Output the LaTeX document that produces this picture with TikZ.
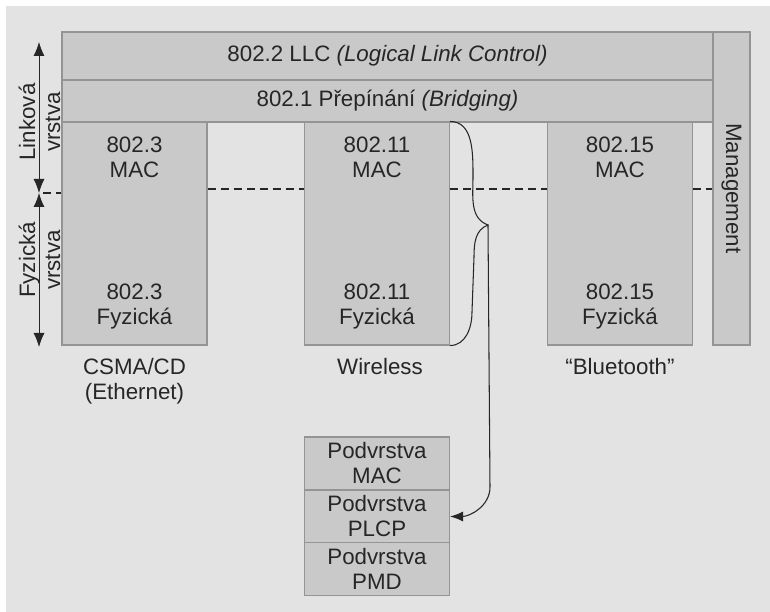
\documentclass[tikz,border=0pt]{standalone}
\usepackage{fontspec}
\setmainfont{Liberation Sans}
\usetikzlibrary{arrows.meta}

\definecolor{paper}{gray}{0.89}
\definecolor{boxfill}{gray}{0.79}
\definecolor{boxline}{gray}{0.58}
\definecolor{ink}{gray}{0.15}

\tikzset{
  layerbox/.style={draw=boxline, fill=boxfill, line width=0.6pt, inner sep=0pt},
  colbox/.style={layerbox, minimum width=2.9cm, minimum height=4.46cm},
  subbox/.style={layerbox, minimum width=2.9cm, minimum height=1.06cm, align=center},
  sep line/.style={ink, line width=1pt, dash pattern=on 0.16cm off 0.1cm},
  span arrow/.style={{Latex[length=0.28cm,width=0.22cm]}-{Latex[length=0.28cm,width=0.22cm]}, ink, line width=0.5pt},
  flow arrow/.style={-{Latex[length=0.26cm,width=0.2cm]}, ink, line width=0.6pt},
}

\begin{document}
\begin{tikzpicture}[font=\fontsize{12.7}{14.2}\selectfont, text=ink]
\useasboundingbox (0,0) rectangle (15.4,12.24);
\fill[white] (0,0) rectangle (15.4,12.24);
\fill[paper] (0.12,0) rectangle (15.4,12.12);

% upper layers
\node[layerbox, minimum width=13.02cm, minimum height=0.96cm] (LLC) at (7.75,11.12) {802.2 LLC \textit{(Logical Link Control)}};
\node[layerbox, minimum width=13.02cm, minimum height=0.84cm] (Bridging) at (7.75,10.22) {802.1 Přepínání \textit{(Bridging)}};
\node[layerbox, minimum width=0.74cm, minimum height=6.26cm] (Mgmt Box) at (14.63,8.47) {};
\node[rotate=-90] (Management) at (14.63,8.47) {Management};

% columns
\node[colbox] (Col 3) at (2.69,7.57) {};
\node[align=center] (MAC 3) at (2.69,9.09) {802.3\\MAC};
\node[align=center] (Phy 3) at (2.69,6.1) {802.3\\Fyzická};
\node[align=center, anchor=north] (Name 3) at (2.69,5.2) {CSMA/CD\\(Ethernet)};

\node[colbox] (Col 11) at (7.54,7.57) {};
\node[align=center] (MAC 11) at (7.54,9.09) {802.11\\MAC};
\node[align=center] (Phy 11) at (7.54,6.1) {802.11\\Fyzická};
\node[anchor=north] (Name 11) at (7.6,5.2) {Wireless};

\node[colbox] (Col 15) at (12.4,7.57) {};
\node[align=center] (MAC 15) at (12.4,9.09) {802.15\\MAC};
\node[align=center] (Phy 15) at (12.4,6.1) {802.15\\Fyzická};
\node[anchor=north] (Name 15) at (12.4,5.2) {“Bluetooth”};

% sublayers
\node[subbox] (Sub MAC) at (7.54,2.97) {Podvrstva\\MAC};
\node[subbox] (Sub PLCP) at (7.54,1.91) {Podvrstva\\PLCP};
\node[subbox] (Sub PMD) at (7.54,0.86) {Podvrstva\\PMD};

% layer spans
\coordinate (Split) at (0.78,8.38);
\coordinate (Cut) at (0,8.46);
\draw[span arrow] (0.78,11.4) -- (Split);
\draw[span arrow] (Split) -- (0.78,5.3);
\node[rotate=90, align=center] (Link Label) at (0.79,9.8) {Linková\\vrstva};
\node[rotate=90, align=center] (Phys Label) at (0.79,7.04) {Fyzická\\vrstva};

\draw[sep line] ([xshift=0.08cm]Split) -- (Split -| Col 3.west);
\draw[sep line] (Cut -| Col 3.east) -- (Cut -| Col 11.west);
\draw[sep line] (Cut -| Col 11.east) -- (Cut -| Col 15.west);
\draw[sep line] (Cut -| Col 15.east) -- (Cut -| Mgmt Box.west);

% brace and arrow
\coordinate (Brace Tip) at (9.76,7.74);
\draw[ink, line width=0.6pt] (Col 11.north east) to[out=0, in=90] (9.46,8.7) to[out=-90, in=160] (Brace Tip)
  to[out=-160, in=90] (9.48,7.1) -- (9.44,6.0) to[out=-90, in=0] (Col 11.south east);
\draw[flow arrow] (Brace Tip) -- (9.8,2.5) to[out=-90, in=0] (Sub PLCP.east);
\end{tikzpicture}
\end{document}
